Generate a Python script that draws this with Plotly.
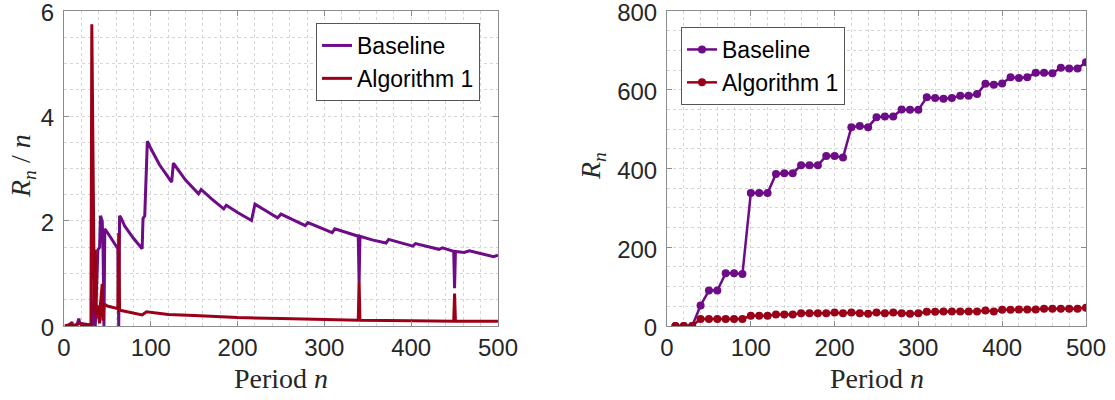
import plotly.graph_objects as go

# ---------------- Left panel: R_n / n (vertices) ----------------
left_base_n = [1, 8, 9, 10, 15, 17, 18, 31, 33, 35, 36, 37, 39, 41, 42, 44, 45, 46, 47, 50, 55, 62, 63, 64,
               66, 70, 80, 90, 91, 93, 96, 100, 110, 124, 126, 140, 155, 158, 170, 184, 187, 200, 216, 220,
               233, 246, 250, 264, 278, 281, 295, 309, 312, 325, 339, 340, 341, 355, 371, 374, 388, 402, 405,
               418, 432, 436, 449, 450, 451, 461, 467, 480, 495, 500]
left_base_v = [0.0, 0.0, 0.08, 0.0, 0.02, 0.14, 0.05, 0.02, 0.03, 0.85, 0.0, 0.6, 1.45, 1.5, 2.1, 2.0, 1.4, 0.0,
               1.85, 1.78, 1.65, 1.47, 0.0, 2.1, 2.05, 1.9, 1.67, 1.47, 2.05, 2.1, 3.52, 3.38, 3.07, 2.74, 3.1,
               2.78, 2.52, 2.6, 2.42, 2.23, 2.3, 2.16, 2.01, 2.32, 2.19, 2.06, 2.13, 2.02, 1.91, 1.97, 1.87,
               1.78, 1.85, 1.78, 1.71, 0.84, 1.71, 1.64, 1.58, 1.65, 1.58, 1.52, 1.57, 1.51, 1.46, 1.49, 1.42,
               0.72, 1.42, 1.40, 1.43, 1.38, 1.32, 1.35]

left_alg_n = [1, 5, 8, 10, 15, 18, 20, 31, 32, 35, 36, 37, 38, 41, 42, 44, 45, 46, 50, 62, 63, 64, 70, 80, 90,
              95, 100, 120, 150, 200, 250, 300, 339, 340, 341, 400, 449, 450, 451, 500]
left_alg_v = [0.0, 0.02, 0.05, 0.01, 0.03, 0.06, 0.02, 0.02, 5.75, 0.25, 1.45, 0.15, 0.4, 0.05, 0.42, 0.8, 0.1,
              0.42, 0.38, 0.33, 1.77, 0.3, 0.28, 0.24, 0.21, 0.27, 0.26, 0.22, 0.2, 0.16, 0.14, 0.12, 0.11,
              0.84, 0.11, 0.10, 0.09, 0.62, 0.09, 0.09]

# ---------------- Right panel: R_n sampled every 10 periods ----------------
right_n = [10, 20, 30, 40, 50, 60, 70, 80, 90, 100, 110, 120, 130, 140, 150, 160, 170, 180, 190, 200,
           210, 220, 230, 240, 250, 260, 270, 280, 290, 300, 310, 320, 330, 340, 350, 360, 370, 380, 390, 400,
           410, 420, 430, 440, 450, 460, 470, 480, 490, 500]
right_base = [0, 0, 0, 52, 90, 90, 134, 134, 132, 338, 338, 338, 386, 388, 388, 408, 408, 408, 432, 432,
              428, 505, 508, 505, 530, 532, 532, 550, 549, 549, 581, 579, 577, 579, 585, 585, 589, 615, 613, 616,
              632, 630, 632, 643, 643, 642, 656, 654, 654, 670]
right_alg = [0, 0, 0, 18, 18, 18, 18, 18, 18, 26, 26, 26, 29, 29, 29, 32, 32, 32, 32, 34,
             32, 34, 32, 31, 34, 32, 34, 32, 31, 32, 36, 36, 37, 37, 37, 37, 37, 39, 37, 41,
             41, 42, 42, 42, 44, 44, 44, 44, 44, 46]

# tick labels
x_ticks = [0, 100, 200, 300, 400, 500]
left_y_ticks = [0, 2, 4, 6]
right_y_ticks = [0, 200, 400, 600, 800]

series_names = ["Baseline", "Algorithm 1"]
PURPLE = "#6E0B86"
RED = "#9A0018"

TICKFONT = dict(family="Liberation Sans, Arial, sans-serif", size=24, color="#262626")
SERIF = "Liberation Serif, DejaVu Serif, serif"
AXCOL = "#8c8c8c"
GRIDCOL = "#d6d6d6"

fig = go.Figure()
fig.add_trace(go.Scatter(x=left_base_n, y=left_base_v, mode="lines", name=series_names[0],
                         line=dict(color=PURPLE, width=3), xaxis="x", yaxis="y", legend="legend"))
fig.add_trace(go.Scatter(x=left_alg_n, y=left_alg_v, mode="lines", name=series_names[1],
                         line=dict(color=RED, width=3), xaxis="x", yaxis="y", legend="legend"))
fig.add_trace(go.Scatter(x=right_n, y=right_base, mode="lines+markers", name=series_names[0],
                         line=dict(color=PURPLE, width=2.5), marker=dict(size=8, color=PURPLE),
                         xaxis="x2", yaxis="y2", legend="legend2"))
fig.add_trace(go.Scatter(x=right_n, y=right_alg, mode="lines+markers", name=series_names[1],
                         line=dict(color=RED, width=2.5), marker=dict(size=8, color=RED),
                         xaxis="x2", yaxis="y2", legend="legend2"))


def axis(domain, rng, ticks, minor_dtick, anchor, is_y=False):
    span = rng[1] - rng[0]
    d = dict(domain=domain, range=[rng[0] - span * 1e-4, rng[1] + span * 1e-4],
             tickmode="array", tickvals=ticks, ticktext=[str(t) for t in ticks], anchor=anchor,
             showline=True, linecolor=AXCOL, linewidth=1, mirror="ticks",
             ticks="inside", ticklen=5, tickcolor=AXCOL, tickfont=TICKFONT,
             ticklabeloverflow="allow",
             showgrid=True, gridcolor=GRIDCOL, griddash="dot", gridwidth=1,
             zeroline=False, automargin=False,
             minor=dict(dtick=minor_dtick, tick0=0, showgrid=True, gridcolor=GRIDCOL,
                        griddash="dot", gridwidth=1, ticks=""))
    if is_y:
        d["ticklabelstandoff"] = 4
        d["ticklabelshift"] = 2
    return d


ydom = [1 - 326 / 400, 1 - 11 / 400]
legend_font = dict(family="Liberation Sans, Arial, sans-serif", size=23, color="black")
fig.update_layout(
    width=1115, height=400,
    margin=dict(l=0, r=0, t=0, b=0),
    paper_bgcolor="white", plot_bgcolor="white",
    xaxis=axis([64 / 1115, 498 / 1115], [0, 500], x_ticks, 20, "y"),
    yaxis=axis(ydom, [0, 6], left_y_ticks, 0.5, "x", True),
    xaxis2=axis([667 / 1115, 1086 / 1115], [0, 500], x_ticks, 20, "y2"),
    yaxis2=axis(ydom, [0, 800], right_y_ticks, 50, "x2", True),
    legend=dict(x=316 / 1115, y=1 - 23 / 400, xanchor="left", yanchor="top",
                bordercolor="#555555", borderwidth=1, bgcolor="white",
                font=legend_font, tracegroupgap=0),
    legend2=dict(x=681 / 1115, y=1 - 27 / 400, xanchor="left", yanchor="top",
                 bordercolor="#555555", borderwidth=1, bgcolor="white",
                 font=legend_font, tracegroupgap=0),
    showlegend=True,
)

ann_font = dict(family=SERIF, size=28, color="#262626")
fig.add_annotation(text="Period <i>n</i>", x=281 / 1115, y=1 - 378 / 400, xref="paper", yref="paper",
                   showarrow=False, font=ann_font, xanchor="center", yanchor="middle")
fig.add_annotation(text="Period <i>n</i>", x=877 / 1115, y=1 - 378 / 400, xref="paper", yref="paper",
                   showarrow=False, font=ann_font, xanchor="center", yanchor="middle")
fig.add_annotation(text="<i>R</i><sub><i>n</i></sub> / <i>n</i>", x=22 / 1115, y=1 - 166 / 400,
                   xref="paper", yref="paper", showarrow=False, font=ann_font, textangle=-90,
                   xanchor="center", yanchor="middle")
fig.add_annotation(text="<i>R</i><sub><i>n</i></sub>", x=592 / 1115, y=1 - 166 / 400,
                   xref="paper", yref="paper", showarrow=False, font=ann_font, textangle=-90,
                   xanchor="center", yanchor="middle")

fig.write_html("out.html")
